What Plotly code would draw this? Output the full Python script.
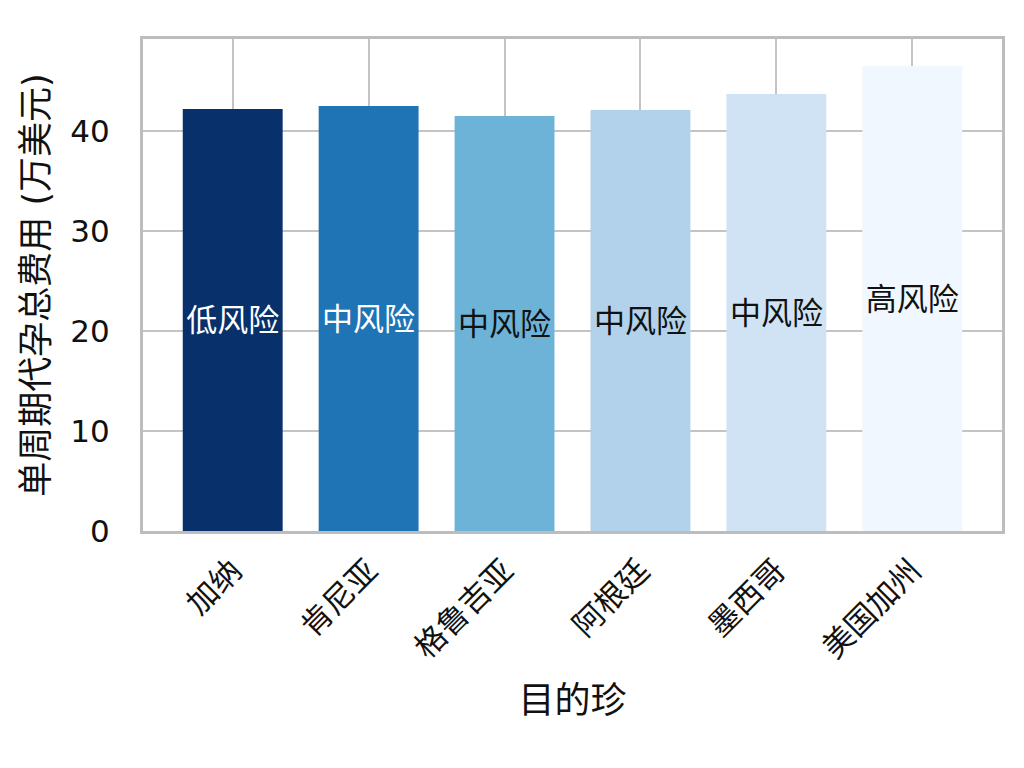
import plotly.graph_objects as go

# destinations, cost per cycle (10k USD), risk label per bar
destinations = ["加纳", "肯尼亚", "格鲁吉亚", "阿根廷", "墨西哥", "美国加州"]
costs = [42.2, 42.5, 41.5, 42.1, 43.7, 46.5]
risk_labels = ["低风险", "中风险", "中风险", "中风险", "中风险", "高风险"]

# Blues-ish ramp, dark -> light
bar_colors = ["#08306b", "#1f74b6", "#6db3d8", "#b1d2ea", "#d0e3f4", "#f0f7fe"]
text_colors = ["white", "white", "#111111", "#111111", "#111111", "#111111"]

FONT = "DejaVu Sans, Noto Sans CJK SC, sans-serif"
GRID = "#c4c4c4"

fig = go.Figure(go.Bar(
    x=destinations, y=costs,
    marker=dict(color=bar_colors, line=dict(width=0)),
    width=0.735,
    text=risk_labels, textposition="inside", insidetextanchor="middle",
    textfont=dict(size=31, color=text_colors, family=FONT),
    textangle=0,
    showlegend=False,
))

fig.update_xaxes(
    range=[-0.66, 5.66], tickangle=-45,
    tickfont=dict(size=31, color="#111111"),
    showgrid=True, gridcolor=GRID, gridwidth=2,
    showline=True, linecolor="#bdbdbd", linewidth=3, mirror=True,
    ticks="", ticklabelstandoff=6,
    title=dict(text="目的珍", font=dict(size=36, color="#111111"), standoff=24),
)
fig.update_yaxes(
    range=[0, 49.2], tickvals=[0, 10, 20, 30, 40],
    tickfont=dict(size=31, color="#111111"),
    showgrid=True, gridcolor=GRID, gridwidth=2, zeroline=False,
    showline=True, linecolor="#bdbdbd", linewidth=3, mirror=True,
    ticks="", ticklabelstandoff=24,
    title=dict(text="单周期代孕总费用 (万美元)", font=dict(size=35, color="#111111"), standoff=12),
)
fig.update_layout(
    width=1024, height=768,
    font=dict(family=FONT, color="#111111"),
    plot_bgcolor="white", paper_bgcolor="white",
    margin=dict(l=135, r=30, t=31, b=245),
    uniformtext=dict(minsize=10, mode="show"),
)

fig.write_html("out.html")
